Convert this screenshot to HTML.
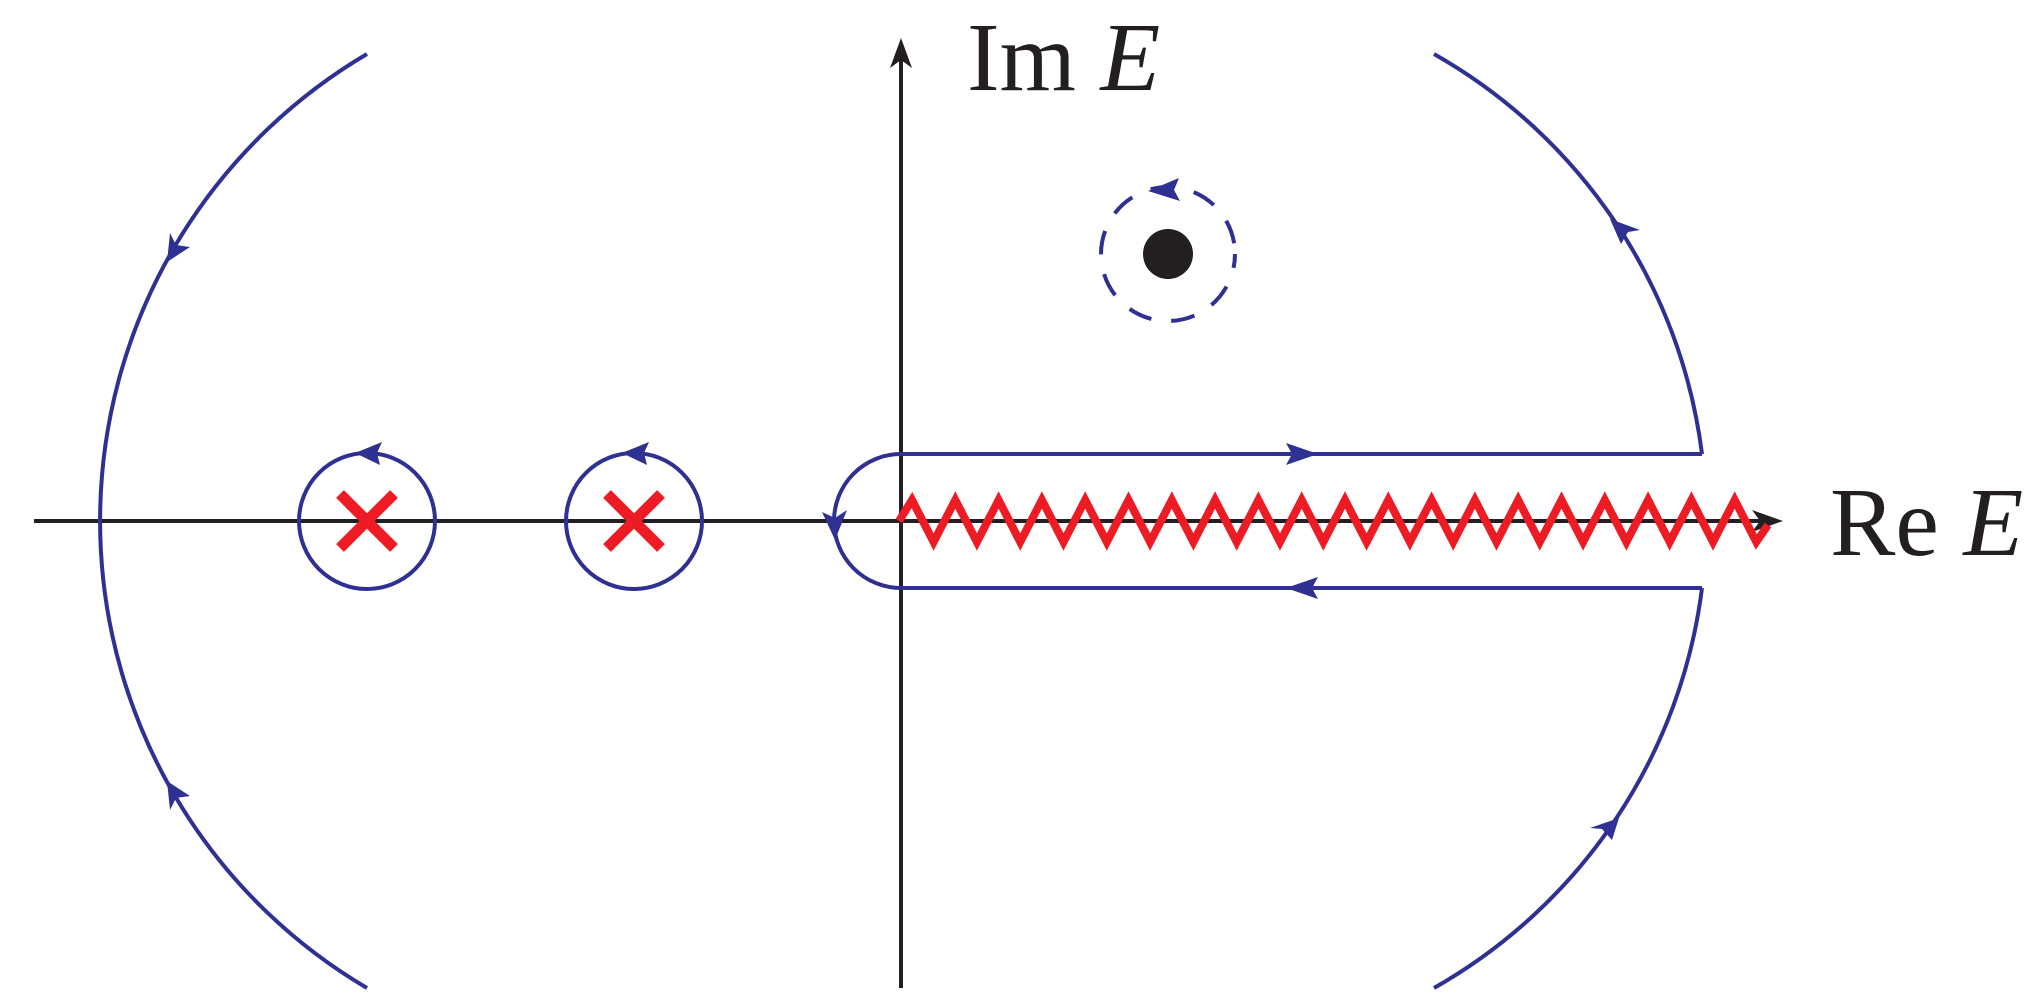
<!DOCTYPE html>
<html><head><meta charset="utf-8"><style>
html,body{margin:0;padding:0;background:#fff;width:2033px;height:1004px;overflow:hidden}
svg{display:block}
</style></head><body>
<svg width="2033" height="1004" viewBox="0 0 2033 1004" xmlns="http://www.w3.org/2000/svg">
<defs>
<marker id="m" viewBox="0 0 10 10" refX="0" refY="5" markerWidth="1" markerHeight="1"/>
</defs>
<!-- axes -->
<line x1="34" y1="521" x2="1760" y2="521" stroke="#231f20" stroke-width="4"/>
<polygon points="1783,521 1752,510 1760,521 1752,532" fill="#231f20"/>
<line x1="901" y1="988" x2="901" y2="60" stroke="#231f20" stroke-width="4"/>
<polygon points="901,38 890,68 901,60 912,68" fill="#231f20"/>
<!-- labels -->
<text x="967" y="90" font-family="Liberation Serif, serif" font-size="98" fill="#231f20">Im <tspan font-style="italic">E</tspan></text>
<text x="1830" y="555" font-family="Liberation Serif, serif" font-size="98" fill="#231f20">Re <tspan font-style="italic">E</tspan></text>
<g fill="none" stroke="#2e3192" stroke-width="4">
<!-- big left arc: center (642,521) r 542 -->
<path d="M367,54 A542,542 0 0 0 367,988"/>
<!-- right arcs: center (1170,521) r 537 -->
<path d="M1434,54 A537,537 0 0 1 1702,454"/>
<path d="M1702,588 A537,537 0 0 1 1434,988"/>
<!-- keyhole -->
<path d="M1702,454 L901,454 A67,67 0 0 0 901,588 L1702,588"/>
<!-- small circles -->
<circle cx="367" cy="521" r="68"/>
<circle cx="634" cy="521" r="68"/>
<!-- dashed circle -->
<circle cx="1168" cy="254" r="67" stroke-dasharray="24,20" stroke-dashoffset="10"/>
</g>
<circle cx="1168" cy="254" r="25" fill="#231f20"/>
<!-- arrowheads blue -->
<g fill="#2e3192">
<polygon points="355,453 382,442 377,453 380,465"/>
<polygon points="622,453 649,442 644,453 647,465"/>
<polygon points="1148,191 1179,178 1174,190 1180,201"/>
<polygon points="1318,454 1286,443 1292,454 1286,465"/>
<polygon points="1286,588 1318,577 1312,588 1318,599"/>
<polygon points="835,540 822,512 835,518 847,510"/>
<polygon points="167,262 170,233 176,245 190,247"/>
<polygon points="167,781 170,810 176,798 190,796"/>
<polygon points="1610,219 1640,230 1628,232 1621,244"/>
<polygon points="1619,818 1590,828 1602,829 1612,840"/>
</g>
<!-- crosses -->
<g stroke="#ed1c24" stroke-width="11">
<line x1="340" y1="494" x2="394" y2="548"/><line x1="394" y1="494" x2="340" y2="548"/>
<line x1="607" y1="494" x2="661" y2="548"/><line x1="661" y1="494" x2="607" y2="548"/>
</g>
<!-- zigzag -->
<polyline fill="none" stroke="#ed1c24" stroke-width="8" stroke-linejoin="miter" points="
899,521 912,500 933.6,542 955.3,500 976.9,542 998.6,500 1020.2,542 1041.9,500 1063.5,542 1085.2,500 1106.8,542 1128.5,500 1150.1,542 1171.8,500 1193.4,542 1215.1,500 1236.7,542 1258.4,500 1280,542 1301.7,500 1323.3,542 1345,500 1366.6,542 1388.3,500 1409.9,542 1431.6,500 1453.2,542 1474.9,500 1496.5,542 1518.2,500 1539.8,542 1561.5,500 1583.1,542 1604.8,500 1626.4,542 1648.1,500 1669.7,542 1691.4,500 1713,542 1734.7,500 1756.3,542 1768,525"/>
</svg>
</body></html>
